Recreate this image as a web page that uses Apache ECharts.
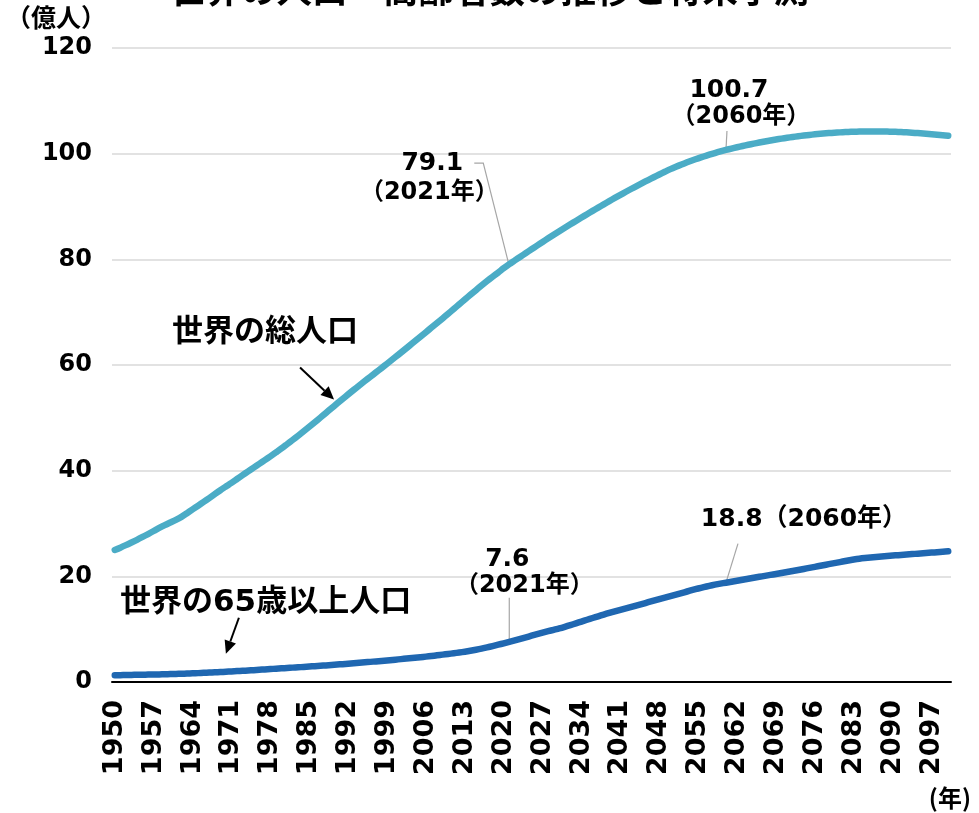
<!DOCTYPE html>
<html>
<head>
<meta charset="utf-8">
<script src="https://cdn.jsdelivr.net/npm/echarts@6/dist/echarts.min.js"></script>
<style>
  html, body { margin: 0; padding: 0; background: #fff; }
  #chart { width: 979px; height: 813px; }
</style>
</head>
<body>
<div id="chart"></div>
<script>
// years on the category axis, 1950..2100
const years = [];
for (let y = 1950; y <= 2100; y++) years.push(String(y));

// world total population (億人)
const totalPop = [
  25.00, 25.43, 25.90, 26.40, 26.91, 27.45, 28.01, 28.58, 29.16, 29.70, 30.19,
  30.68, 31.26, 31.95, 32.67, 33.37, 34.09, 34.81, 35.56, 36.30, 37.00,
  37.69, 38.42, 39.15, 39.87, 40.58, 41.28, 41.99, 42.71, 43.45, 44.20,
  45.00, 45.80, 46.62, 47.46, 48.30, 49.16, 50.04, 50.93, 51.82, 52.70,
  53.58, 54.44, 55.29, 56.13, 56.96, 57.78, 58.60, 59.42, 60.25, 61.08,
  61.92, 62.77, 63.62, 64.48, 65.35, 66.22, 67.08, 67.95, 68.82, 69.70,
  70.60, 71.50, 72.40, 73.29, 74.17, 75.04, 75.89, 76.71, 77.50, 78.32,
  79.10, 79.80, 80.50, 81.20, 81.90, 82.60, 83.29, 83.98, 84.66, 85.33,
  85.98, 86.63, 87.27, 87.91, 88.54, 89.17, 89.79, 90.41, 91.02, 91.62,
  92.21, 92.79, 93.36, 93.92, 94.47, 95.01, 95.54, 96.06, 96.57, 97.07,
  97.52, 97.95, 98.36, 98.75, 99.12, 99.47, 99.80, 100.12, 100.42, 100.70,
  100.96, 101.21, 101.45, 101.68, 101.90, 102.11, 102.31, 102.50, 102.68, 102.85,
  103.01, 103.16, 103.30, 103.43, 103.55, 103.66, 103.76, 103.85, 103.93, 104.00,
  104.06, 104.11, 104.15, 104.18, 104.20, 104.21, 104.21, 104.20, 104.18, 104.15,
  104.11, 104.06, 104.00, 103.93, 103.85, 103.77, 103.68, 103.59, 103.49, 103.39
];

// population aged 65+ (億人)
const elderlyPop = [
  1.29, 1.30, 1.32, 1.34, 1.36, 1.38, 1.40, 1.42, 1.44, 1.47, 1.50,
  1.53, 1.56, 1.60, 1.64, 1.68, 1.73, 1.78, 1.83, 1.88, 1.94,
  2.00, 2.06, 2.12, 2.18, 2.24, 2.31, 2.38, 2.45, 2.52, 2.59,
  2.65, 2.72, 2.78, 2.85, 2.92, 3.00, 3.07, 3.14, 3.22, 3.30,
  3.38, 3.47, 3.56, 3.64, 3.73, 3.81, 3.90, 3.99, 4.08, 4.18,
  4.28, 4.38, 4.48, 4.58, 4.69, 4.80, 4.92, 5.05, 5.18, 5.31,
  5.44, 5.58, 5.74, 5.91, 6.10, 6.31, 6.55, 6.80, 7.06, 7.33,
  7.60, 7.88, 8.17, 8.46, 8.76, 9.05, 9.33, 9.61, 9.88, 10.15,
  10.45, 10.77, 11.10, 11.44, 11.78, 12.11, 12.44, 12.77, 13.08, 13.38,
  13.66, 13.94, 14.22, 14.51, 14.80, 15.10, 15.40, 15.70, 15.98, 16.26,
  16.55, 16.84, 17.13, 17.42, 17.70, 17.96, 18.20, 18.42, 18.62, 18.80,
  18.98, 19.16, 19.35, 19.54, 19.73, 19.91, 20.09, 20.27, 20.45, 20.63,
  20.82, 21.01, 21.20, 21.40, 21.60, 21.80, 22.00, 22.20, 22.40, 22.60,
  22.80, 23.00, 23.18, 23.34, 23.47, 23.58, 23.68, 23.77, 23.85, 23.93,
  24.01, 24.09, 24.17, 24.25, 24.33, 24.41, 24.49, 24.57, 24.65, 24.73
];

const seriesNames = ['世界の総人口', '世界の65歳以上人口'];
const seriesColors = ['#4BACC6', '#1F67B1'];

// callouts: [seriesIndex, year, value text, year text]
const callouts = [
  [0, '2021', '79.1', '（2021年）'],
  [0, '2060', '100.7', '（2060年）'],
  [1, '2021', '7.6', '（2021年）'],
  [1, '2060', '18.8', '（2060年）']
];

const FONT = "'DejaVu Sans', 'Noto Sans CJK JP', sans-serif";
const JP = "'Noto Sans CJK JP', sans-serif";

const chart = echarts.init(document.getElementById('chart'));

chart.setOption({
  animation: false,
  backgroundColor: '#fff',
  title: {
    text: '世界の人口・高齢者数の推移と将来予測',
    left: 'center',
    top: -33,
    textStyle: { fontFamily: JP, fontWeight: 'bold', fontSize: 35.5, color: '#000' }
  },
  grid: { left: 112, right: 28, top: 48, bottom: 131 },
  xAxis: {
    type: 'category',
    data: years,
    boundaryGap: true,
    axisLine: { lineStyle: { color: '#000', width: 2 } },
    axisTick: { show: false },
    axisLabel: {
      interval: 6,
      rotate: 90,
      margin: 18,
      color: '#000',
      fontFamily: FONT,
      fontWeight: 'bold',
      fontSize: 27
    }
  },
  yAxis: {
    type: 'value',
    min: 0,
    max: 120,
    interval: 20,
    axisLine: { show: false },
    axisTick: { show: false },
    splitLine: { lineStyle: { color: '#d9d9d9', width: 1.5 } },
    axisLabel: {
      margin: 20,
      color: '#000',
      fontFamily: FONT,
      fontWeight: 'bold',
      fontSize: 24
    }
  },
  series: [
    {
      name: seriesNames[0],
      type: 'line',
      data: totalPop,
      symbol: 'none',
      smooth: 0.25,
      lineStyle: { color: seriesColors[0], width: 6.5, cap: 'round', join: 'round' }
    },
    {
      name: seriesNames[1],
      type: 'line',
      data: elderlyPop,
      symbol: 'none',
      smooth: 0.25,
      lineStyle: { color: seriesColors[1], width: 6.5, cap: 'round', join: 'round' }
    }
  ]
});

// annotation layout, offsets in px from the data point
function pt(si, year) {
  const v = si === 0 ? totalPop[years.indexOf(year)] : elderlyPop[years.indexOf(year)];
  return chart.convertToPixel({ gridIndex: 0 }, [year, v]);
}

const textStyle = (t, x, y, size, align) => ({
  type: 'text',
  x: x, y: y,
  style: {
    text: t,
    fill: '#000',
    font: 'bold ' + size + 'px ' + FONT,
    textAlign: align || 'center',
    textVerticalAlign: 'middle'
  }
});

const leader = (pts) => ({
  type: 'polyline',
  shape: { points: pts },
  style: { stroke: '#a6a6a6', lineWidth: 1.2, fill: null }
});

function arrow(x1, y1, x2, y2) {
  const ang = Math.atan2(y2 - y1, x2 - x1);
  const len = 13, half = 6;
  const bx = x2 - len * Math.cos(ang), by = y2 - len * Math.sin(ang);
  const nx = -Math.sin(ang), ny = Math.cos(ang);
  return [
    { type: 'line', shape: { x1: x1, y1: y1, x2: bx, y2: by }, style: { stroke: '#000', lineWidth: 2 } },
    { type: 'polygon', shape: { points: [[x2, y2], [bx + nx * half, by + ny * half], [bx - nx * half, by - ny * half]] }, style: { fill: '#000' } }
  ];
}

const g = [];
// 79.1 (2021)
let p = pt(callouts[0][0], callouts[0][1]);
g.push(textStyle(callouts[0][2], p[0] - 77, p[1] - 101, 25));
g.push(textStyle(callouts[0][3], p[0] - 80, p[1] - 71, 24));
g.push(leader([[p[0] - 35, p[1] - 101], [p[0] - 26, p[1] - 101], [p[0] - 1, p[1] - 2]]));
// 100.7 (2060)
p = pt(callouts[1][0], callouts[1][1]);
g.push(textStyle(callouts[1][2], p[0] + 3, p[1] - 59, 25));
g.push(textStyle(callouts[1][3], p[0] + 15, p[1] - 33, 24));
g.push(leader([[p[0] + 1, p[1] - 19], [p[0], p[1]]]));
// 7.6 (2021)
p = pt(callouts[2][0], callouts[2][1]);
g.push(textStyle(callouts[2][2], p[0] - 2, p[1] - 82, 25));
g.push(textStyle(callouts[2][3], p[0] + 15, p[1] - 56, 24));
g.push(leader([[p[0], p[1] - 44], [p[0], p[1] - 2]]));
// 18.8 (2060)
p = pt(callouts[3][0], callouts[3][1]);
g.push(textStyle(callouts[3][2] + callouts[3][3], p[0] + 78, p[1] - 63, 25));
g.push(leader([[p[0] + 12, p[1] - 39], [p[0], p[1]]]));

// series name labels with arrows
p = pt(0, '1990');
g.push(textStyle(seriesNames[0], 172, 333, 31, 'left'));
g.push.apply(g, arrow(p[0] - 37, p[1] - 36, p[0] - 3, p[1] - 4));
p = pt(1, '1970');
g.push(textStyle(seriesNames[1], 120, 603, 31, 'left'));
g.push.apply(g, arrow(p[0] + 13, p[1] - 54, p[0], p[1] - 18));

// unit labels
g.push({ type: 'text', left: 6, top: 5, style: { text: '（億人）', fill: '#000', font: 'bold 25px ' + JP } });
g.push({ type: 'text', right: 8, bottom: 3, style: { text: '(年)', fill: '#000', font: 'bold 24px ' + JP } });

chart.setOption({ graphic: { elements: g } });
</script>
</body>
</html>
